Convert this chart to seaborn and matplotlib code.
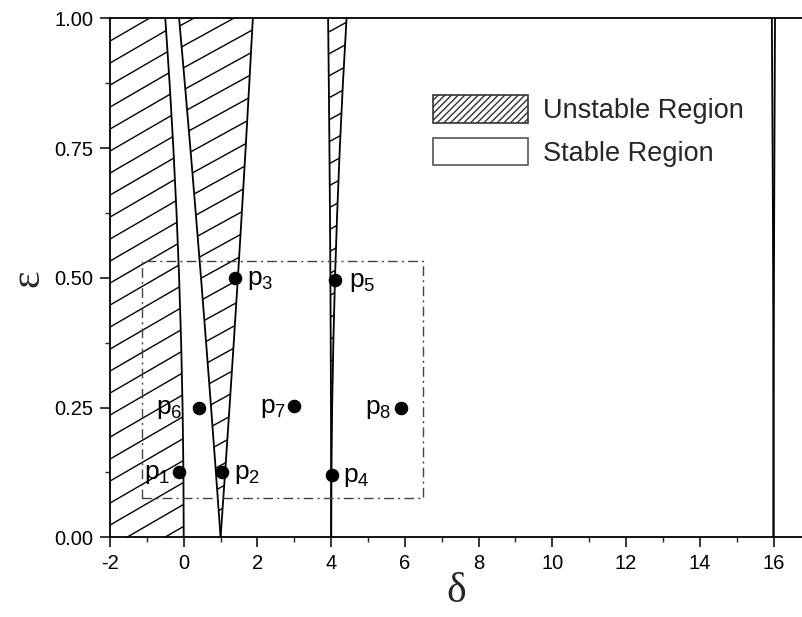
import numpy as np
import pandas as pd
import matplotlib
matplotlib.use("Agg")
import matplotlib.pyplot as plt
import matplotlib.patches as mpatches
from matplotlib.collections import LineCollection
import seaborn as sns

# ---------------- data ----------------
eps = [0.0, 0.125, 0.25, 0.375, 0.5, 0.625, 0.75, 0.875, 1.0]
delta_a0 = [0.0, -0.008, -0.031, -0.070, -0.125, -0.195, -0.281, -0.383, -0.50]
delta_b1 = [1.0, 0.873, 0.742, 0.607, 0.469, 0.326, 0.180, 0.029, -0.125]
delta_a1 = [1.0, 1.123, 1.242, 1.357, 1.469, 1.576, 1.680, 1.779, 1.875]
delta_b2 = [4.0, 3.999, 3.995, 3.988, 3.979, 3.967, 3.953, 3.936, 3.917]
delta_a2 = [4.0, 4.007, 4.026, 4.059, 4.104, 4.163, 4.234, 4.319, 4.417]
delta_b4 = [16.0, 16.0, 15.998, 15.995, 15.990, 15.984, 15.975, 15.965, 15.955]
delta_a4 = [16.0, 16.001, 16.003, 16.007, 16.012, 16.018, 16.025, 16.033, 16.040]

point_names = ["1", "2", "3", "4", "5", "6", "7", "8"]
point_delta = [-0.14, 1.05, 1.38, 4.03, 4.10, 0.41, 2.98, 5.90]
point_eps = [0.125, 0.125, 0.50, 0.12, 0.495, 0.25, 0.252, 0.25]

box_delta = [-1.14, 6.49]
box_eps = [0.076, 0.532]

x_ticks = [-2, 0, 2, 4, 6, 8, 10, 12, 14, 16]
y_ticks = [0.0, 0.25, 0.50, 0.75, 1.00]
y_ticklabels = ["0.00", "0.25", "0.50", "0.75", "1.00"]
legend_labels = ["Unstable Region", "Stable Region"]
x_label = "δ"
y_label = "ε"

# ---------------- style ----------------
sns.set_theme(style="ticks")
plt.rcParams["font.family"] = ["Liberation Sans", "DejaVu Sans"]
plt.rcParams["mathtext.default"] = "regular"

fig = plt.figure(figsize=(8.03, 6.17), dpi=100)
ax = fig.add_axes([110 / 803, 1 - 537.2 / 617, 1 - 110 / 803, (537.2 - 18.4) / 617])

# boundary curves
curves = [delta_a0, delta_b1, delta_a1, delta_b2, delta_a2, delta_b4, delta_a4]
for c in curves:
    df = pd.DataFrame({"delta": c, "eps": eps})
    sns.lineplot(data=df, x="delta", y="eps", sort=False, estimator=None,
                 color="black", lw=1.3, ax=ax)

ax.set_xlim(-2, 16.8)
ax.set_ylim(0, 1)

# unstable regions (clip paths for hatching)
left_edge = [-2.0] * len(eps)
regions = [(left_edge, delta_a0, 0.58), (delta_b1, delta_a1, 0.55), (delta_b2, delta_a2, 0.55)]
W_px, H_px = 693.0, 518.8
for lo, hi, slope_px in regions:
    poly = ax.fill_betweenx(eps, lo, hi, facecolor="none", edgecolor="none")
    s = slope_px * W_px / H_px
    step = 22.0 / H_px
    segs = [[(0, c0), (1, c0 + s)] for c0 in np.arange(-s - 0.05, 1.05, step)]
    lc = LineCollection(segs, colors="black", linewidths=1.0, transform=ax.transAxes)
    ax.add_collection(lc)
    lc.set_clip_path(poly.get_paths()[0], poly.get_transform())

# dash-dot box
bx = [box_delta[0], box_delta[1], box_delta[1], box_delta[0], box_delta[0]]
by = [box_eps[0], box_eps[0], box_eps[1], box_eps[1], box_eps[0]]
ax.plot(bx, by, color="#444444", lw=1.0, ls=(0, (7, 3, 1.5, 3)))

# points
pts = pd.DataFrame({"delta": point_delta, "eps": point_eps, "name": point_names})
sns.scatterplot(data=pts, x="delta", y="eps", color="black", s=80,
                edgecolor="black", linewidth=0.8, ax=ax, zorder=5)

label_offsets = {
    "1": (-6, "right"), "2": (8, "left"), "3": (9, "left"), "4": (8, "left"),
    "5": (10, "left"), "6": (-12, "right"), "7": (-5, "right"), "8": (-7, "right"),
}
for name, d, e in zip(point_names, point_delta, point_eps):
    dx, ha = label_offsets[name]
    ax.annotate(f"$p_{{{name}}}$", (d, e), xytext=(dx, -5), textcoords="offset points",
                ha=ha, va="baseline", fontsize=19, color="black")

# axes styling
ax.set_xticks(x_ticks)
ax.set_xticklabels([str(t) for t in x_ticks])
ax.set_yticks(y_ticks)
ax.set_yticklabels(y_ticklabels)
ax.set_xticks(np.arange(-1, 17, 2), minor=True)
ax.set_yticks(np.arange(0.125, 1.0, 0.25), minor=True)
ax.tick_params(axis="both", which="major", direction="out", length=7, width=1.1,
               labelsize=14.5, colors="black", pad=5)
ax.tick_params(axis="both", which="minor", direction="out", length=3.6, width=1.0)
ax.tick_params(top=False, right=False, which="both")
for side in ["left", "bottom", "top"]:
    ax.spines[side].set_visible(True)
    ax.spines[side].set_linewidth(1.3)
    ax.spines[side].set_color("black")
ax.spines["right"].set_visible(False)

ax.set_xlabel(x_label, family=["Liberation Serif", "DejaVu Serif"], fontsize=30, labelpad=0)
ax.set_ylabel(y_label, family=["Liberation Serif", "DejaVu Serif"], fontsize=30, labelpad=5)

# legend
handles = [
    mpatches.Patch(facecolor="white", edgecolor="#333333", hatch="/////", lw=1.2),
    mpatches.Patch(facecolor="white", edgecolor="#555555", lw=1.2),
]
ax.legend(handles, legend_labels, loc="upper left",
          bbox_to_anchor=(433 / 803, 1 - 95 / 617), bbox_transform=fig.transFigure,
          frameon=False, fontsize=19.5, handlelength=3.5, handleheight=1.2,
          handletextpad=0.55, labelspacing=0.5, borderpad=0, borderaxespad=0)

fig.savefig("out.png", dpi=100)
